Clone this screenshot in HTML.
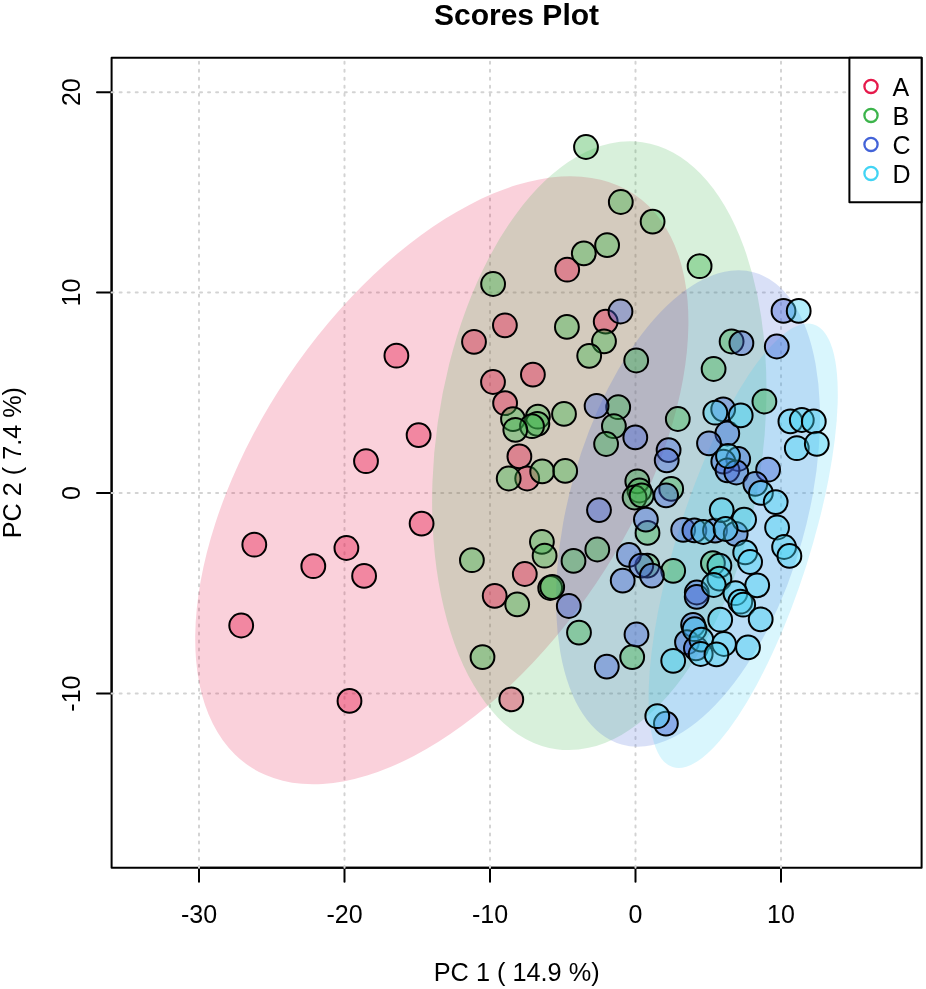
<!DOCTYPE html>
<html><head><meta charset="utf-8"><title>Scores Plot</title>
<style>
html,body{margin:0;padding:0;background:#fff;}
body{width:926px;height:989px;overflow:hidden;}
svg{display:block;will-change:transform;}
text{font-family:"Liberation Sans",sans-serif;fill:#000;}
</style></head><body>
<svg width="926" height="989" viewBox="0 0 926 989">
<rect x="0" y="0" width="926" height="989" fill="#ffffff"/>
<rect x="111.6" y="57.65" width="810.0" height="810.0500000000001" fill="none" stroke="#000" stroke-width="2" stroke-linejoin="round"/>
<g stroke="#000" stroke-width="2" fill="none" stroke-linecap="round">
<line x1="199" y1="867.7" x2="781" y2="867.7"/>
<line x1="111.6" y1="693.6" x2="111.6" y2="92.2"/>
<line x1="199" y1="867.7" x2="199" y2="881.8"/>
<line x1="344.5" y1="867.7" x2="344.5" y2="881.8"/>
<line x1="490" y1="867.7" x2="490" y2="881.8"/>
<line x1="635.5" y1="867.7" x2="635.5" y2="881.8"/>
<line x1="781" y1="867.7" x2="781" y2="881.8"/>
<line x1="111.6" y1="693.6" x2="97" y2="693.6"/>
<line x1="111.6" y1="493.1" x2="97" y2="493.1"/>
<line x1="111.6" y1="292.6" x2="97" y2="292.6"/>
<line x1="111.6" y1="92.2" x2="97" y2="92.2"/>
</g>
<g stroke="#d3d3d3" stroke-width="2" stroke-dasharray="2 6.04" stroke-linecap="round" fill="none">
<line x1="199" y1="867.7" x2="199" y2="57.65"/>
<line x1="344.5" y1="867.7" x2="344.5" y2="57.65"/>
<line x1="490" y1="867.7" x2="490" y2="57.65"/>
<line x1="635.5" y1="867.7" x2="635.5" y2="57.65"/>
<line x1="781" y1="867.7" x2="781" y2="57.65"/>
<line x1="111.6" y1="693.6" x2="921.6" y2="693.6"/>
<line x1="111.6" y1="493.1" x2="921.6" y2="493.1"/>
<line x1="111.6" y1="292.6" x2="921.6" y2="292.6"/>
<line x1="111.6" y1="92.2" x2="921.6" y2="92.2"/>
</g>
<ellipse cx="441.8" cy="480.3" rx="344.65" ry="185.58" transform="rotate(-56.003 441.8 480.3)" fill="#e6194b" fill-opacity="0.2"/>
<ellipse cx="599.3" cy="445.7" rx="306.57" ry="163.19" transform="rotate(-81.940 599.3 445.7)" fill="#3cb44b" fill-opacity="0.2"/>
<ellipse cx="688.0" cy="508.5" rx="245.18" ry="118.54" transform="rotate(-74.299 688.0 508.5)" fill="#4363d8" fill-opacity="0.2"/>
<ellipse cx="743.2" cy="545.8" rx="232.27" ry="66.13" transform="rotate(-72.313 743.2 545.8)" fill="#42d4f4" fill-opacity="0.2"/>
<g fill="#e6194b" fill-opacity="0.4" stroke="#000" stroke-width="2.0">
<circle cx="396.4" cy="355.7" r="11.9"/>
<circle cx="418.6" cy="435.1" r="11.9"/>
<circle cx="366.0" cy="461.2" r="11.9"/>
<circle cx="421.6" cy="523.6" r="11.9"/>
<circle cx="254.3" cy="544.7" r="11.9"/>
<circle cx="346.4" cy="548.0" r="11.9"/>
<circle cx="313.3" cy="566.2" r="11.9"/>
<circle cx="364.1" cy="575.9" r="11.9"/>
<circle cx="241.2" cy="625.5" r="11.9"/>
<circle cx="349.5" cy="700.9" r="11.9"/>
<circle cx="567.2" cy="269.7" r="11.9"/>
<circle cx="605.7" cy="321.6" r="11.9"/>
<circle cx="504.9" cy="325.3" r="11.9"/>
<circle cx="474.0" cy="341.8" r="11.9"/>
<circle cx="532.9" cy="374.6" r="11.9"/>
<circle cx="493.0" cy="382.0" r="11.9"/>
<circle cx="505.1" cy="403.2" r="11.9"/>
<circle cx="519.4" cy="456.4" r="11.9"/>
<circle cx="527.2" cy="478.5" r="11.9"/>
<circle cx="524.8" cy="574.0" r="11.9"/>
<circle cx="494.7" cy="595.8" r="11.9"/>
<circle cx="511.3" cy="699.4" r="11.9"/>
</g>
<g fill="#3cb44b" fill-opacity="0.4" stroke="#000" stroke-width="2.0">
<circle cx="586.0" cy="147.0" r="11.9"/>
<circle cx="620.8" cy="202.0" r="11.9"/>
<circle cx="652.6" cy="221.6" r="11.9"/>
<circle cx="607.1" cy="245.2" r="11.9"/>
<circle cx="583.8" cy="253.4" r="11.9"/>
<circle cx="493.1" cy="284.0" r="11.9"/>
<circle cx="699.6" cy="266.2" r="11.9"/>
<circle cx="566.9" cy="326.9" r="11.9"/>
<circle cx="604.0" cy="341.3" r="11.9"/>
<circle cx="589.2" cy="355.8" r="11.9"/>
<circle cx="636.2" cy="360.5" r="11.9"/>
<circle cx="731.6" cy="341.5" r="11.9"/>
<circle cx="713.6" cy="369.0" r="11.9"/>
<circle cx="764.4" cy="401.5" r="11.9"/>
<circle cx="677.8" cy="419.0" r="11.9"/>
<circle cx="618.2" cy="407.2" r="11.9"/>
<circle cx="564.0" cy="413.9" r="11.9"/>
<circle cx="513.0" cy="419.1" r="11.9"/>
<circle cx="537.9" cy="416.7" r="11.9"/>
<circle cx="537.4" cy="423.8" r="11.9"/>
<circle cx="532.0" cy="426.2" r="11.9"/>
<circle cx="515.3" cy="429.8" r="11.9"/>
<circle cx="613.9" cy="426.2" r="11.9"/>
<circle cx="606.1" cy="444.0" r="11.9"/>
<circle cx="542.2" cy="471.4" r="11.9"/>
<circle cx="565.2" cy="470.9" r="11.9"/>
<circle cx="508.7" cy="478.5" r="11.9"/>
<circle cx="637.3" cy="481.3" r="11.9"/>
<circle cx="639.4" cy="490.5" r="11.9"/>
<circle cx="634.6" cy="497.5" r="11.9"/>
<circle cx="641.6" cy="495.4" r="11.9"/>
<circle cx="671.2" cy="488.9" r="11.9"/>
<circle cx="647.5" cy="532.9" r="11.9"/>
<circle cx="541.9" cy="541.8" r="11.9"/>
<circle cx="544.6" cy="555.7" r="11.9"/>
<circle cx="471.9" cy="560.2" r="11.9"/>
<circle cx="597.3" cy="549.5" r="11.9"/>
<circle cx="573.5" cy="560.9" r="11.9"/>
<circle cx="550.2" cy="588.0" r="11.9"/>
<circle cx="552.2" cy="587.0" r="11.9"/>
<circle cx="517.2" cy="604.4" r="11.9"/>
<circle cx="579.0" cy="632.6" r="11.9"/>
<circle cx="482.5" cy="657.1" r="11.9"/>
<circle cx="632.2" cy="657.1" r="11.9"/>
<circle cx="647.3" cy="565.6" r="11.9"/>
<circle cx="673.2" cy="570.8" r="11.9"/>
<circle cx="712.9" cy="563.2" r="11.9"/>
</g>
<g fill="#4363d8" fill-opacity="0.4" stroke="#000" stroke-width="2.0">
<circle cx="620.5" cy="311.5" r="11.9"/>
<circle cx="783.5" cy="310.9" r="11.9"/>
<circle cx="741.4" cy="343.2" r="11.9"/>
<circle cx="776.8" cy="346.5" r="11.9"/>
<circle cx="596.6" cy="406.0" r="11.9"/>
<circle cx="635.3" cy="437.4" r="11.9"/>
<circle cx="723.2" cy="409.3" r="11.9"/>
<circle cx="727.3" cy="433.5" r="11.9"/>
<circle cx="709.0" cy="443.3" r="11.9"/>
<circle cx="668.6" cy="450.1" r="11.9"/>
<circle cx="666.7" cy="460.3" r="11.9"/>
<circle cx="738.2" cy="459.0" r="11.9"/>
<circle cx="723.3" cy="461.6" r="11.9"/>
<circle cx="727.5" cy="470.3" r="11.9"/>
<circle cx="736.3" cy="472.5" r="11.9"/>
<circle cx="768.1" cy="469.7" r="11.9"/>
<circle cx="755.3" cy="483.8" r="11.9"/>
<circle cx="666.1" cy="495.3" r="11.9"/>
<circle cx="599.0" cy="510.1" r="11.9"/>
<circle cx="645.9" cy="519.6" r="11.9"/>
<circle cx="683.2" cy="529.8" r="11.9"/>
<circle cx="694.4" cy="530.4" r="11.9"/>
<circle cx="715.0" cy="530.6" r="11.9"/>
<circle cx="735.7" cy="533.8" r="11.9"/>
<circle cx="628.9" cy="554.9" r="11.9"/>
<circle cx="641.3" cy="565.6" r="11.9"/>
<circle cx="651.9" cy="575.6" r="11.9"/>
<circle cx="622.7" cy="580.6" r="11.9"/>
<circle cx="568.8" cy="606.0" r="11.9"/>
<circle cx="696.8" cy="592.5" r="11.9"/>
<circle cx="696.7" cy="596.8" r="11.9"/>
<circle cx="636.5" cy="634.5" r="11.9"/>
<circle cx="606.8" cy="666.6" r="11.9"/>
<circle cx="693.1" cy="624.8" r="11.9"/>
<circle cx="687.0" cy="642.2" r="11.9"/>
<circle cx="695.9" cy="648.3" r="11.9"/>
<circle cx="665.9" cy="723.6" r="11.9"/>
</g>
<g fill="#42d4f4" fill-opacity="0.4" stroke="#000" stroke-width="2.0">
<circle cx="798.7" cy="310.9" r="11.9"/>
<circle cx="715.3" cy="412.7" r="11.9"/>
<circle cx="740.7" cy="415.4" r="11.9"/>
<circle cx="790.4" cy="421.4" r="11.9"/>
<circle cx="801.8" cy="420.0" r="11.9"/>
<circle cx="813.8" cy="421.4" r="11.9"/>
<circle cx="796.8" cy="448.2" r="11.9"/>
<circle cx="816.8" cy="443.8" r="11.9"/>
<circle cx="728.0" cy="456.0" r="11.9"/>
<circle cx="760.9" cy="492.9" r="11.9"/>
<circle cx="775.7" cy="502.1" r="11.9"/>
<circle cx="721.7" cy="510.1" r="11.9"/>
<circle cx="744.1" cy="519.6" r="11.9"/>
<circle cx="777.1" cy="527.5" r="11.9"/>
<circle cx="703.3" cy="532.0" r="11.9"/>
<circle cx="725.6" cy="529.0" r="11.9"/>
<circle cx="784.1" cy="547.0" r="11.9"/>
<circle cx="789.4" cy="555.9" r="11.9"/>
<circle cx="745.2" cy="552.4" r="11.9"/>
<circle cx="750.1" cy="562.0" r="11.9"/>
<circle cx="719.4" cy="565.6" r="11.9"/>
<circle cx="719.4" cy="578.6" r="11.9"/>
<circle cx="713.7" cy="585.0" r="11.9"/>
<circle cx="757.2" cy="585.3" r="11.9"/>
<circle cx="735.4" cy="593.2" r="11.9"/>
<circle cx="740.3" cy="601.7" r="11.9"/>
<circle cx="743.2" cy="604.7" r="11.9"/>
<circle cx="720.2" cy="619.7" r="11.9"/>
<circle cx="760.7" cy="619.3" r="11.9"/>
<circle cx="694.6" cy="629.2" r="11.9"/>
<circle cx="701.3" cy="639.6" r="11.9"/>
<circle cx="724.0" cy="644.0" r="11.9"/>
<circle cx="748.0" cy="647.4" r="11.9"/>
<circle cx="700.7" cy="654.0" r="11.9"/>
<circle cx="716.5" cy="654.4" r="11.9"/>
<circle cx="673.2" cy="660.8" r="11.9"/>
<circle cx="657.3" cy="716.2" r="11.9"/>
</g>
<g font-size="25" text-anchor="middle">
<text x="199" y="923.2">-30</text>
<text x="344.5" y="923.2">-20</text>
<text x="490" y="923.2">-10</text>
<text x="635.5" y="923.2">0</text>
<text x="781" y="923.2">10</text>
<text transform="translate(80,693.6) rotate(-90)">-10</text>
<text transform="translate(80,493.1) rotate(-90)">0</text>
<text transform="translate(80,292.6) rotate(-90)">10</text>
<text transform="translate(80,92.2) rotate(-90)">20</text>
<text x="516.7" y="980.7" font-size="25.3">PC 1 ( 14.9 %)</text>
<text transform="translate(21.3,462.6) rotate(-90)" font-size="25.2">PC 2 ( 7.4 %)</text>
</g>
<text x="516.5" y="24.5" font-size="30" font-weight="bold" text-anchor="middle">Scores Plot</text>
<rect x="849.4" y="57.65" width="72.20" height="144.55" fill="#fff" stroke="#000" stroke-width="2" stroke-linejoin="round"/>
<circle cx="871" cy="86.4" r="6.6" fill="none" stroke="#e6194b" stroke-width="2.3"/>
<text x="892.5" y="95.5" font-size="25">A</text>
<circle cx="871" cy="115.4" r="6.6" fill="none" stroke="#3cb44b" stroke-width="2.3"/>
<text x="892.5" y="124.5" font-size="25">B</text>
<circle cx="871" cy="144.4" r="6.6" fill="none" stroke="#4363d8" stroke-width="2.3"/>
<text x="892.5" y="153.5" font-size="25">C</text>
<circle cx="871" cy="173.4" r="6.6" fill="none" stroke="#42d4f4" stroke-width="2.3"/>
<text x="892.5" y="182.5" font-size="25">D</text>
</svg>
</body></html>
